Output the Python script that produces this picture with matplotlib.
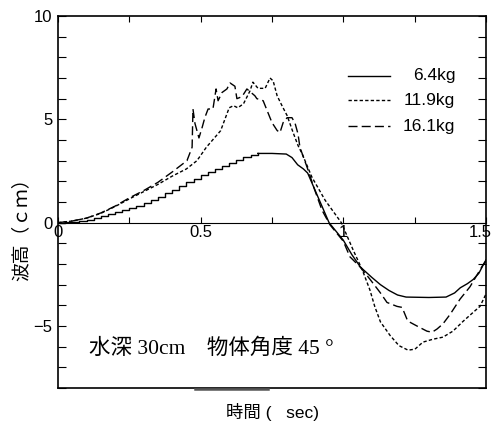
import matplotlib
matplotlib.use('Agg')
import matplotlib.pyplot as plt
import matplotlib.transforms as mtransforms
from matplotlib.ticker import MultipleLocator, FixedLocator, FuncFormatter

plt.rcParams['font.family'] = ['Liberation Sans', 'Noto Sans CJK JP', 'DejaVu Sans']

# 6.4kg: rising part (stepped in the original) and falling part
t_solid_rise = [0, .025, .05, .075, .1, .125, .15, .175, .2, .225, .25, .275, .3, .325,
                .35, .375, .4, .425, .45, .475, .5, .525, .55, .575, .6, .625, .65, .675, .7]
v_solid_rise = [0, .02, .05, .09, .15, .22, .3, .4, .5, .6, .7, .82, .95, 1.1,
                1.25, 1.43, 1.6, 1.78, 1.95, 2.12, 2.3, 2.45, 2.6, 2.75, 2.9, 3.05, 3.18, 3.28, 3.35]
t_solid_fall = [.7, .75, .8, .82, .84, .86, .875, .9, .925, .95, 1.0, 1.03, 1.06, 1.1, 1.13,
                1.16, 1.19, 1.22, 1.3, 1.36, 1.39, 1.41, 1.435, 1.455, 1.475, 1.49, 1.5]
v_solid_fall = [3.35, 3.35, 3.32, 3.15, 2.8, 2.6, 2.4, 1.6, 0.8, 0.0, -0.85, -1.55, -2.15, -2.65, -3.0,
                -3.28, -3.5, -3.6, -3.62, -3.6, -3.4, -3.15, -2.95, -2.75, -2.45, -2.05, -1.8]

# 11.9kg
t_119 = [0, .05, .1, .15, .2, .25, .3, .35, .4, .45, .487, .52, .57, .6, .615, .63, .65, .673,
         .683, .701, .726, .743, .754, .768, .785, .803, .824, .841, .855, .89, .936, .993,
         1.034, 1.066, 1.093, 1.11, 1.13, 1.164, 1.195, 1.227, 1.251, 1.279, 1.314, 1.349,
         1.384, 1.42, 1.455, 1.479, 1.5]
v_119 = [0, .08, .22, .45, .78, 1.15, 1.5, 1.85, 2.25, 2.6, 3.0, 3.65, 4.45, 5.56, 5.66, 5.56, 5.75, 6.38,
         6.8, 6.5, 6.5, 7.0, 6.86, 6.14, 5.66, 5.18, 4.36, 3.74, 3.35, 2.2, 1.09, 0.0,
         -1.31, -2.27, -3.25, -4.05, -4.8, -5.46, -5.95, -6.17, -6.12, -5.78, -5.64, -5.54,
         -5.25, -4.77, -4.34, -4.05, -3.45]

# 16.1kg
t_161 = [0, .05, .1, .15, .2, .25, .3, .35, .4, .452, .47, .473, .48, .487, .494, .505, .515,
         .526, .543, .554, .561, .575, .592, .603, .62, .627, .645, .662, .69, .697, .719, .733,
         .75, .768, .778, .789, .803, .82, .831, .841, .848, .873, .9, .925, .953, 1.0, 1.023,
         1.058, 1.094, 1.129, 1.153, 1.188, 1.206, 1.223, 1.227, 1.258, 1.293, 1.311, 1.328,
         1.349, 1.374, 1.409, 1.444, 1.49, 1.5]
v_161 = [0, .08, .22, .47, .8, 1.2, 1.55, 1.95, 2.45, 3.0, 3.65, 5.5, 4.8, 4.45, 4.1, 4.6, 5.1,
         5.5, 5.5, 6.47, 5.9, 6.3, 6.47, 6.76, 6.6, 6.0, 6.1, 6.47, 6.14, 6.0, 5.9, 5.42,
         4.84, 4.46, 4.36, 4.84, 5.08, 5.08, 4.8, 4.3, 3.64, 2.68, 1.57, 0.61, -0.1, -0.9, -1.65,
         -2.13, -2.75, -3.38, -3.86, -4.05, -4.1, -4.67, -4.77, -5.0, -5.25, -5.3, -5.15,
         -4.9, -4.44, -3.7, -3.1, -2.03, -1.85]

x_labels = {0: '0', 0.5: '0.5', 1.0: '1', 1.5: '1.5'}
legend_labels = ['6.4kg', '11.9kg', '16.1kg']

SHORT_DASH = (0, (2.4, 1.6))
LONG_DASH = (0, (6.5, 3))

fig = plt.figure(figsize=(4.95, 4.26), dpi=100)
ax = fig.add_axes([58 / 495, 38 / 426, 428 / 495, 372 / 426])

ax.plot(t_solid_rise, v_solid_rise, 'k-', lw=1.0, drawstyle='steps-post')
ax.plot(t_solid_fall, v_solid_fall, 'k-', lw=1.0)
ax.plot(t_119, v_119, color='k', lw=1.0, linestyle=SHORT_DASH)
ax.plot(t_161, v_161, color='k', lw=1.0, linestyle=LONG_DASH)

ax.set_xlim(0, 1.5)
ax.set_ylim(-8, 10)

# x axis drawn along y = 0, frame line kept at the bottom
ax.spines['bottom'].set_position(('data', 0))
ax.spines['bottom'].set_linewidth(0.8)
for s in ['left', 'right', 'top']:
    ax.spines[s].set_linewidth(1.2)
ax.axhline(-8, color='k', lw=1.2, clip_on=False)
ax.plot([0.32, 0.49], [-0.004, -0.004], transform=ax.transAxes, color='#555555', lw=1.8, clip_on=False)

ax.xaxis.set_major_locator(FixedLocator([0, 0.25, 0.5, 0.75, 1.0, 1.25, 1.5]))
ax.xaxis.set_major_formatter(FuncFormatter(lambda x, p: x_labels.get(round(x, 2), '')))
ax.yaxis.set_major_locator(MultipleLocator(5))
ax.yaxis.set_minor_locator(MultipleLocator(1))
ax.yaxis.set_major_formatter(FuncFormatter(lambda y, p: '%d' % y if y >= 0 else '\u2212%d' % -y))

ax.tick_params(axis='x', which='both', direction='in', top=True, bottom=True,
               length=4, width=0.8, pad=2, labelsize=12)
ax.tick_params(axis='y', which='both', direction='in', left=True, right=True,
               length=6, width=0.8, pad=4, labelsize=12)

# last x label sits on the right edge, nudge it inwards a little
last_lab = ax.get_xticklabels()[-1]
last_lab.set_transform(last_lab.get_transform() +
                       mtransforms.ScaledTranslation(-4 / 72, 0, fig.dpi_scale_trans))

ax.set_ylabel('波高（ｃｍ）', fontsize=13.5, family=['Noto Sans CJK JP', 'DejaVu Sans'])
ax.yaxis.set_label_coords(-0.062, 0.44)
ax.set_xlabel('時間 (   sec)', fontsize=12.5)
ax.xaxis.set_label_coords(0.5, -0.04)

ax.text(0.11, -6.1, '水深 30cm\u3000物体角度 45 °', fontsize=15.5, va='center', ha='left',
        family=['Liberation Serif', 'Noto Sans CJK JP', 'DejaVu Sans'])

# legend drawn by hand: short line samples and right-aligned labels
leg_y = [0.839, 0.774, 0.704]
leg_styles = ['-', SHORT_DASH, LONG_DASH]
for y, ls, lab in zip(leg_y, leg_styles, legend_labels):
    ax.plot([0.678, 0.776], [y, y], transform=ax.transAxes, color='k', lw=1.0, linestyle=ls)
    ax.text(0.928, y, lab, transform=ax.transAxes, ha='right', va='center', fontsize=12.5)

fig.savefig('out.png', dpi=100)
